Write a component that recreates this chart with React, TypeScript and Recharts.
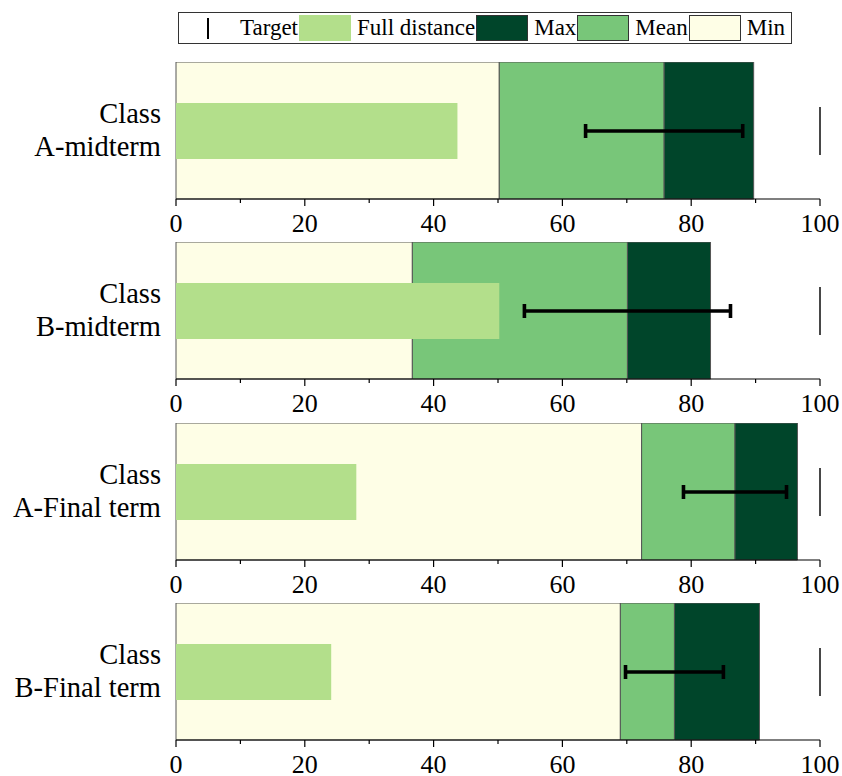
import React from 'react'
import { BarChart, Bar, XAxis, YAxis, ErrorBar } from 'recharts'

// Scores per class / term
const categories = ['Class A-midterm', 'Class B-midterm', 'Class A-Final term', 'Class B-Final term']
const minValues = [50.2, 36.7, 72.3, 69.0]
const meanValues = [75.8, 70.1, 86.8, 77.4]
const maxValues = [89.7, 83.0, 96.5, 90.6]
const fullDistance = [43.7, 50.2, 28.0, 24.1]
const meanError = [12.2, 16.0, 8.0, 7.6]
const targetValues = [100, 100, 100, 100]
const xTicks = [0, 10, 20, 30, 40, 50, 60, 70, 80, 90, 100]

const COLORS = {
  min: '#fefee6',
  mean: '#78c679',
  max: '#00452a',
  full: '#b3df8b',
  edge: '#555'
}

const legendItems = [
  { name: 'Target', color: null, border: false },
  { name: 'Full distance', color: COLORS.full, border: false },
  { name: 'Max', color: COLORS.max, border: true },
  { name: 'Mean', color: COLORS.mean, border: true },
  { name: 'Min', color: COLORS.min, border: true }
]

const FONT = '"Liberation Serif", "Times New Roman", serif'
const AXIS_WIDTH = 176
const LABEL_GAP = 15

// stacked ranges: min -> mean -> max
const rows = categories.map((name, i) => ({
  name,
  min: minValues[i],
  meanSpan: +(meanValues[i] - minValues[i]).toFixed(2),
  maxSpan: +(maxValues[i] - meanValues[i]).toFixed(2),
  full: fullDistance[i],
  mean: meanValues[i],
  err: meanError[i],
  target: targetValues[i]
}))

const XTick = (props: any) => {
  const { x, y, payload } = props
  const major = payload.value % 20 === 0
  return (
    <g>
      <line x1={x} x2={x} y1={y} y2={y + (major ? 7 : 4)} stroke="#000" strokeWidth={1.2} />
      {major && (
        <text x={x} y={y + 33} textAnchor="middle" fontSize={26} fontFamily={FONT} fill="#000">
          {payload.value}
        </text>
      )}
    </g>
  )
}

// two-line category label, right aligned against the plot
const CategoryTick = (props: any) => {
  const { y, payload } = props
  const lx = AXIS_WIDTH - LABEL_GAP
  const [first, ...rest] = String(payload.value).split(' ')
  return (
    <text x={lx} y={y} textAnchor="end" fontSize={28.5} fontFamily={FONT} fill="#000">
      <tspan x={lx} dy={-8}>{first}</tspan>
      <tspan x={lx} dy={33}>{rest.join(' ')}</tspan>
    </text>
  )
}

const TargetMark = (props: any) => {
  const { x, y, width, height } = props
  const xv = x + width
  return <line x1={xv} x2={xv} y1={y} y2={y + height} stroke="#1a1a1a" strokeWidth={1.6} />
}

const BulletPanel = ({ index, top }: { index: number; top: number }) => (
  <div style={{ position: 'absolute', left: 0, top }}>
    <BarChart
      width={842}
      height={180}
      data={[rows[index]]}
      layout="vertical"
      margin={{ top: 0, right: 22, bottom: 0, left: 0 }}
      barCategoryGap={0}
      barGap={0}
    >
      <XAxis
        type="number"
        domain={[0, 100]}
        ticks={xTicks}
        interval={0}
        height={43}
        tickSize={0}
        tickMargin={0}
        tickLine={false}
        axisLine={{ stroke: '#000', strokeWidth: 1.2 }}
        tick={<XTick />}
      />
      <YAxis
        yAxisId="range"
        type="category"
        dataKey="name"
        width={AXIS_WIDTH}
        tickSize={0}
        tickMargin={LABEL_GAP}
        axisLine={false}
        tickLine={false}
        tick={<CategoryTick />}
      />
      <YAxis yAxisId="full" type="category" dataKey="name" hide />
      <YAxis yAxisId="err" type="category" dataKey="name" hide />
      <YAxis yAxisId="target" type="category" dataKey="name" hide />

      <Bar yAxisId="range" dataKey="min" stackId="r" fill={COLORS.min} stroke={COLORS.edge} strokeWidth={1} isAnimationActive={false} />
      <Bar yAxisId="range" dataKey="meanSpan" stackId="r" fill={COLORS.mean} stroke={COLORS.edge} strokeWidth={1} isAnimationActive={false} />
      <Bar yAxisId="range" dataKey="maxSpan" stackId="r" fill={COLORS.max} stroke={COLORS.edge} strokeWidth={1} isAnimationActive={false} />
      <Bar yAxisId="full" dataKey="full" barSize={56} fill={COLORS.full} isAnimationActive={false} />
      <Bar yAxisId="err" dataKey="mean" barSize={56} fill="transparent" isAnimationActive={false}>
        <ErrorBar dataKey="err" direction="x" width={7} stroke="#000" strokeWidth={3.6} />
      </Bar>
      <Bar yAxisId="target" dataKey="target" barSize={48} shape={<TargetMark />} isAnimationActive={false} />
    </BarChart>
  </div>
)

const Legend = () => (
  <div
    style={{
      position: 'absolute',
      left: 178,
      top: 12,
      width: 614,
      height: 32,
      boxSizing: 'border-box',
      border: '1.5px solid #333',
      display: 'flex',
      alignItems: 'center',
      paddingLeft: 3,
      fontFamily: FONT,
      fontSize: 23,
      color: '#000'
    }}
  >
    {legendItems.map((item) => (
      <React.Fragment key={item.name}>
        <div
          style={{
            width: 52,
            height: 26,
            boxSizing: 'border-box',
            background: item.color ?? 'transparent',
            border: item.border ? '1px solid #333' : 'none',
            display: 'flex',
            justifyContent: 'center',
            alignItems: 'center'
          }}
        >
          {item.color === null && <div style={{ width: 2, height: 21, background: '#000' }} />}
        </div>
        <span style={{ marginLeft: 6, marginRight: 1, whiteSpace: 'nowrap', lineHeight: '26px' }}>{item.name}</span>
      </React.Fragment>
    ))}
  </div>
)

export default function App() {
  return (
    <div
      style={{
        position: 'absolute',
        left: 0,
        top: 0,
        width: 842,
        height: 776,
        overflow: 'hidden',
        background: '#fff'
      }}
    >
      <Legend />
      {categories.map((c, i) => (
        <BulletPanel key={c} index={i} top={62 + i * 180.3} />
      ))}
    </div>
  )
}
